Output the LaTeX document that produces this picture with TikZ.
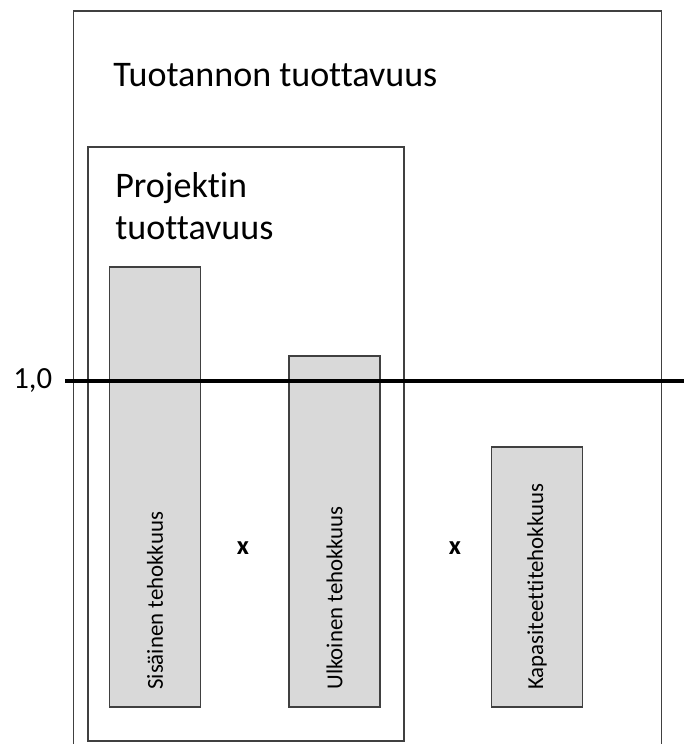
\documentclass[tikz,border=0pt]{standalone}
\usepackage{fontspec}
\setmainfont{Carlito}[Ligatures={NoCommon}]
\begin{document}
\begin{tikzpicture}[frame/.style = {draw=black!75, line width=1pt},
		bar/.style = {draw=black!75, fill=black!15, line width=1pt, minimum width=1.82cm, inner sep=0pt, anchor=south},
		vlabel/.style = {rotate=90, anchor=west, inner sep=0pt, font=\fontsize{13}{15}\selectfont},
		title/.style = {anchor=base west, inner sep=0pt, font=\fontsize{20.5}{25}\selectfont},
		times/.style = {font=\bfseries\fontsize{15}{18}\selectfont}]
		\useasboundingbox (0,0) rectangle (13.68,-14.88);
		% outer frame, open at the bottom
		\draw[frame] (1.47,-15) -- (1.47,-0.22) -- (13.23,-0.22) -- (13.23,-15);
		\node[title] (tuotanto) at (2.26,-1.72) {Tuotannon tuottavuus};
		
		% project box
		\node[frame, anchor=north west, minimum width=6.32cm, minimum height=11.88cm] (projekti) at (1.74,-2.92) {};
		\node[title] (proj1) at (2.30,-3.94) {Projektin};
		\node[title] (proj2) at (2.30,-4.78) {tuottavuus};
		
		% bars
		\node[bar, minimum height=8.8cm] (sis) at (3.10,-14.16) {};
		\node[bar, minimum height=7.02cm] (ulk) at (6.69,-14.16) {};
		\node[bar, minimum height=5.2cm] (kap) at (10.74,-14.16) {};
		\node[vlabel] (sisl) at (3.10,-13.8) {Sisäinen tehokkuus};
		\node[vlabel] (ulkl) at (6.69,-13.8) {Ulkoinen tehokkuus};
		\node[vlabel] (kapl) at (10.74,-13.8) {Kapasiteettitehokkuus};
		\node[times] (x1) at (4.86,-10.96) {x};
		\node[times] (x2) at (9.10,-10.96) {x};
		
		% level 1,0
		\node[anchor=base west, inner sep=0pt, font=\fontsize{17.5}{21}\selectfont] (taso) at (0.26,-7.76) {1,0};
		\coordinate (a) at (1.30,-7.62);
		\coordinate (b) at (13.8,-7.62);
		\draw[line width=2.3pt] (a) -- (b);
\end{tikzpicture}
\end{document}
